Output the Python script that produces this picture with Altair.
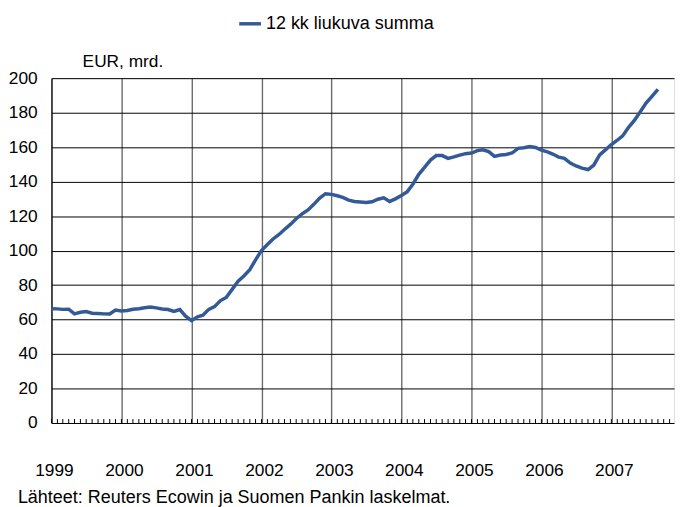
import altair as alt
import pandas as pd

SERIES = "12 kk liukuva summa"
Y_TITLE = "EUR, mrd."
SOURCE = "Lähteet: Reuters Ecowin ja Suomen Pankin laskelmat."

YEARS = [1999, 2000, 2001, 2002, 2003, 2004, 2005, 2006, 2007]
Y_TICKS = [0, 20, 40, 60, 80, 100, 120, 140, 160, 180, 200]

v1999 = [66.3, 66.2, 65.9, 66.0, 63.3, 64.2, 64.6, 63.7, 63.5, 63.3, 63.2, 65.5]
v2000 = [65.0, 65.3, 66.0, 66.3, 66.8, 67.3, 66.8, 66.1, 65.8, 64.7, 65.8, 62.0]
v2001 = [59.4, 61.6, 62.5, 65.9, 67.5, 71.0, 72.8, 77.5, 82.2, 85.3, 88.9, 94.6]
v2002 = [100.0, 103.5, 106.6, 109.2, 112.2, 115.2, 118.5, 121.3, 123.6, 126.8, 130.5, 133.0]
v2003 = [132.6, 131.8, 130.8, 129.3, 128.5, 128.2, 127.9, 128.3, 129.8, 130.6, 128.5, 130.0]
v2004 = [132.0, 134.2, 138.5, 144.2, 148.3, 152.5, 155.1, 155.1, 153.5, 154.3, 155.4, 156.2]
v2005 = [156.6, 158.0, 158.4, 157.4, 154.6, 155.4, 155.7, 156.6, 159.3, 159.6, 160.3, 159.8]
v2006 = [158.3, 157.2, 156.0, 154.2, 153.5, 150.8, 149.1, 147.8, 147.0, 149.5, 155.5, 158.4]
v2007 = [161.5, 164.0, 166.5, 171.5, 175.5, 180.5, 185.5, 189.5, 193.5]

values = v1999 + v2000 + v2001 + v2002 + v2003 + v2004 + v2005 + v2006 + v2007
dates = pd.date_range("1999-01-01", periods=len(values), freq="MS").strftime("%Y-%m-%d").tolist()

df = pd.DataFrame({"date": dates, "value": values, "series": SERIES})
tick_months = pd.date_range("1999-01-01", "2007-11-01", freq="MS").strftime("%Y-%m-%d").tolist()
ticks_df = pd.DataFrame({"date": tick_months})
foot_df = pd.DataFrame({"t": [SOURCE]})

FONT = "Liberation Sans"
xscale = alt.Scale(
    type="utc",
    domain=[alt.DateTime(year=1999, month=1, date=1, utc=True),
            alt.DateTime(year=2007, month=11, date=24, utc=True)],
)

x_enc = alt.X(
    "date:T",
    scale=xscale,
    axis=alt.Axis(
        values=[alt.DateTime(year=y, month=1, date=1, utc=True) for y in YEARS],
        labelExpr="utcFormat(datum.value, '%Y')",
        grid=True, gridColor="#6b6b6b", gridWidth=1.4,
        ticks=False, domain=False,
        labelPadding=39, labelFontSize=17.5, labelColor="#000", labelFont=FONT,
        labelFlush=False, labelOverlap=False, labelOffset=2.5,
        title=None,
    ),
)

line = alt.Chart(df).mark_line(strokeWidth=3.5).encode(
    x=x_enc,
    y=alt.Y(
        "value:Q",
        scale=alt.Scale(domain=[0, 200], nice=False, zero=True),
        axis=alt.Axis(
            values=Y_TICKS, grid=True, gridColor="#000", gridWidth=1,
            ticks=False, domain=True, domainColor="#000", domainWidth=1,
            labelPadding=14.5, labelFontSize=17.5, labelColor="#000", labelFont=FONT,
            title=Y_TITLE, titleAngle=0, titleX=31, titleY=-12,
            titleAlign="left", titleBaseline="alphabetic",
            titleFontSize=17.5, titleFontWeight="normal", titleColor="#000", titleFont=FONT,
        ),
    ),
    color=alt.Color(
        "series:N",
        scale=alt.Scale(range=["#335a96"]),
        legend=alt.Legend(
            orient="none", legendX=188, legendY=-68, title=None,
            symbolType="stroke", symbolStrokeWidth=3.5, symbolSize=484,
            labelFontSize=18.2, labelFont=FONT, labelColor="#000",
            labelOffset=3, padding=0, labelLimit=400,
        ),
    ),
)

minor = alt.Chart(ticks_df).mark_rule(color="#000", strokeWidth=1).encode(
    x=alt.X("date:T", scale=xscale),
    y=alt.value(349),
    y2=alt.value(345),
)

footer = alt.Chart(foot_df).mark_text(
    align="left", baseline="alphabetic", fontSize=18.2, font=FONT, color="#000"
).encode(
    x=alt.value(-34),
    y=alt.value(429.5),
    text="t:N",
)

chart = alt.layer(minor, line, footer).properties(
    width=630,
    height=349,
    autosize=alt.AutoSizeParams(type="none"),
    padding={"left": 44, "top": 68, "right": 1, "bottom": 82},
).configure_view(stroke=None).configure(font=FONT)

chart.save("out.html", embed_options={"renderer": "svg", "actions": False})
